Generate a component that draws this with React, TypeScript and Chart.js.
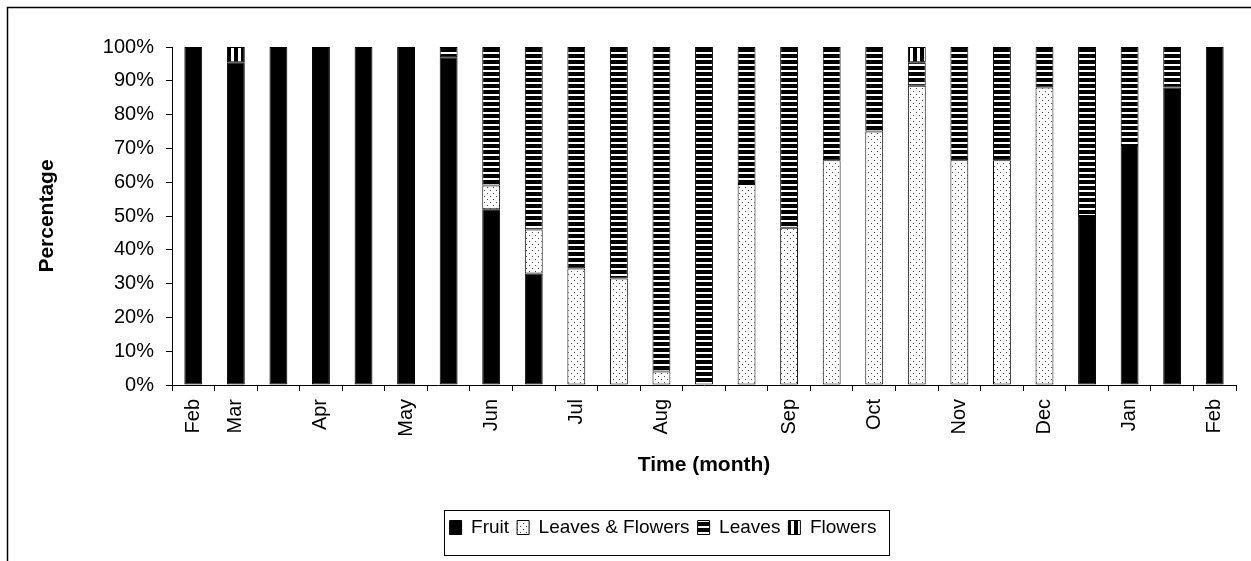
import React, { useEffect, useRef } from 'react';
import { Chart, registerables } from 'chart.js';

Chart.register(...registerables);

// ---- data ----
const categories = ['Feb', 'Mar', '', 'Apr', '', 'May', '', 'Jun', '', 'Jul', '', 'Aug', '', '', 'Sep', '', 'Oct', '', 'Nov', '', 'Dec', '', 'Jan', '', 'Feb'];
const seriesNames = ['Fruit', 'Leaves & Flowers', 'Leaves', 'Flowers'];
const fruit = [100, 95.5, 100, 100, 100, 100, 97, 52, 33, 0, 0, 0, 0, 0, 0, 0, 0, 0, 0, 0, 0, 50, 71, 88, 100];
const leavesFlowers = [0, 0, 0, 0, 0, 0, 0, 7, 13, 34.5, 31.5, 4, 0, 59.5, 46.5, 66.5, 75, 88.5, 66.5, 66.5, 88, 0, 0, 0, 0];
const leaves = [0, 0, 0, 0, 0, 0, 3, 41, 54, 65.5, 68.5, 96, 100, 40.5, 53.5, 33.5, 25, 7, 33.5, 33.5, 12, 50, 29, 12, 0];
const flowers = [0, 4.5, 0, 0, 0, 0, 0, 0, 0, 0, 0, 0, 0, 0, 0, 0, 0, 4.5, 0, 0, 0, 0, 0, 0, 0];
const yMin = 0;
const yMax = 100;
const yStep = 10;

const FONT = "'Liberation Sans', Arial, Helvetica, sans-serif";
const LEGEND_CENTER_X = 663;

function makePattern(kind: string): CanvasPattern | string {
  const c = document.createElement('canvas');
  const ctx = c.getContext('2d');
  if (!ctx) return '#000';
  if (kind === 'dots') {
    c.width = 6; c.height = 6;
    ctx.fillStyle = '#fff';
    ctx.fillRect(0, 0, 6, 6);
    ctx.fillStyle = '#444';
    ctx.fillRect(1, 1, 1, 1);
    ctx.fillRect(4, 4, 1, 1);
  } else if (kind === 'hstripes') {
    c.width = 6; c.height = 6;
    ctx.fillStyle = '#000';
    ctx.fillRect(0, 0, 6, 6);
    ctx.fillStyle = '#fff';
    ctx.fillRect(0, 4, 6, 2);
  } else if (kind === 'vstripes') {
    c.width = 7; c.height = 7;
    ctx.fillStyle = '#000';
    ctx.fillRect(0, 0, 7, 7);
    ctx.fillStyle = '#fff';
    ctx.fillRect(0, 0, 3, 7);
  }
  const p = ctx.createPattern(c, 'repeat');
  return p || '#000';
}

const decorPlugin = {
  id: 'decor',
  afterLayout(chart: any) {
    const lg = chart.legend;
    if (lg) {
      const d = LEGEND_CENTER_X - (lg.left + lg.right) / 2;
      lg.left += d;
      lg.right += d;
    }
  },
  afterDraw(chart: any) {
    const ctx = chart.ctx;
    ctx.save();
    ctx.strokeStyle = '#000';
    ctx.lineWidth = 1.5;
    ctx.beginPath();
    ctx.moveTo(7.5, chart.height);
    ctx.lineTo(7.5, 7.5);
    ctx.lineTo(chart.width, 7.5);
    ctx.stroke();
    const lg = chart.legend;
    if (lg && lg.legendHitBoxes && lg.legendHitBoxes.length) {
      const hb = lg.legendHitBoxes;
      let l = Infinity, r = -Infinity, t = Infinity, b = -Infinity;
      hb.forEach((h: any) => {
        l = Math.min(l, h.left);
        r = Math.max(r, h.left + h.width);
        t = Math.min(t, h.top);
        b = Math.max(b, h.top + h.height);
      });
      ctx.lineWidth = 1;
      ctx.strokeStyle = '#000';
      ctx.strokeRect(Math.round(l - 6) + 0.5, Math.round(t - 8) + 0.5, Math.round(r - l + 18), Math.round(b - t + 26));
    }
    ctx.restore();
  },
};

export default function App() {
  const ref = useRef<HTMLCanvasElement | null>(null);
  useEffect(() => {
    if (!ref.current) return;
    const fills = ['#000', makePattern('dots'), makePattern('hstripes'), makePattern('vstripes')];
    const values = [fruit, leavesFlowers, leaves, flowers];
    const chart = new Chart(ref.current, {
      type: 'bar',
      data: {
        labels: categories,
        datasets: seriesNames.map((name, i) => ({
          label: name,
          data: values[i],
          backgroundColor: fills[i] as any,
          borderColor: '#000',
          borderWidth: 1,
          borderSkipped: false,
          barPercentage: 0.42,
          categoryPercentage: 1,
        })),
      },
      options: {
        animation: false,
        responsive: true,
        maintainAspectRatio: false,
        layout: { padding: { left: 0, right: 15, top: 47, bottom: 14 } },
        plugins: {
          tooltip: { enabled: false },
          legend: {
            position: 'bottom',
            labels: {
              font: { family: FONT, size: 19 },
              color: '#000',
              boxWidth: 12,
              boxHeight: 14,
              padding: 8,
            },
          },
        },
        scales: {
          x: {
            stacked: true,
            afterFit: (s: any) => { s.height = 125; },
            border: { color: '#000', width: 1 },
            grid: { drawOnChartArea: false, drawTicks: true, tickLength: 6, color: '#000', offset: true },
            ticks: {
              autoSkip: false,
              maxRotation: 90,
              minRotation: 90,
              padding: 8,
              color: '#000',
              font: { family: FONT, size: 20 },
            },
            title: {
              display: true,
              text: 'Time (month)',
              color: '#000',
              font: { family: FONT, size: 21, weight: 'bold' },
              padding: { top: 0, bottom: 32 },
            },
          },
          y: {
            stacked: true,
            min: yMin,
            max: yMax,
            afterFit: (s: any) => { s.width = 172; },
            border: { color: '#000', width: 1 },
            grid: { drawOnChartArea: false, drawTicks: true, tickLength: 6, color: '#000' },
            ticks: {
              stepSize: yStep,
              padding: 12,
              color: '#000',
              font: { family: FONT, size: 20 },
              callback: (v: any) => v + '%',
            },
            title: {
              display: true,
              text: 'Percentage',
              color: '#000',
              font: { family: FONT, size: 21, weight: 'bold' },
              padding: { top: 35, bottom: 0 },
            },
          },
        },
      },
      plugins: [decorPlugin],
    });
    return () => chart.destroy();
  }, []);
  return (
    <div style={{ position: 'fixed', left: 0, top: 0, width: 1251, height: 561, background: '#fff' }}>
      <canvas ref={ref} />
    </div>
  );
}
